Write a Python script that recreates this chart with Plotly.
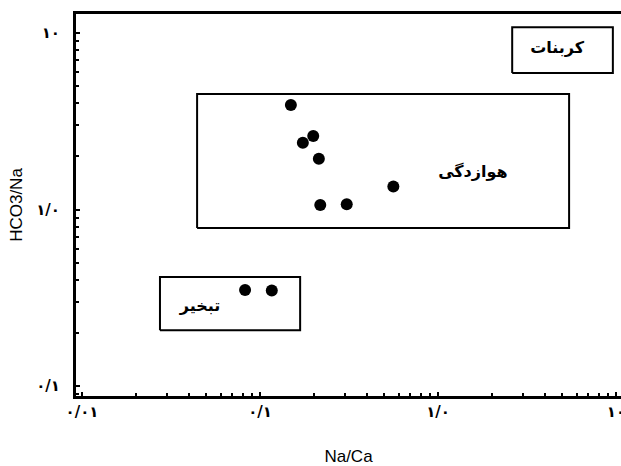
import plotly.graph_objects as go

# Sample points (Na/Ca, HCO3/Na)
na_ca = [0.149, 0.199, 0.174, 0.214, 0.561, 0.218, 0.307, 0.0824, 0.1164]
hco3_na = [3.91, 2.61, 2.39, 1.94, 1.35, 1.06, 1.07, 0.35, 0.347]

# Region boxes: name, x0, x1, y0, y1, label x, label y
box_names = ["کربنات", "هوازدگی", "تبخیر"]
box_x0 = [2.61, 0.0443, 0.0274]
box_x1 = [9.6, 5.45, 0.168]
box_y0 = [5.93, 0.785, 0.207]
box_y1 = [10.8, 4.51, 0.415]
label_x = [4.67, 1.57, 0.046]
label_y = [8.11, 1.61, 0.28]

x_tickvals = [0.01, 0.1, 1, 10]
x_ticktext = ["۰/۰۱", "۰/۱", "۱/۰", "۱۰"]
y_tickvals = [0.1, 1, 10]
y_ticktext = ["۰/۱", "۱/۰", "۱۰"]

fig = go.Figure()

for i in range(len(box_names)):
    fig.add_trace(go.Scatter(
        x=[box_x0[i], box_x1[i], box_x1[i], box_x0[i], box_x0[i]],
        y=[box_y0[i], box_y0[i], box_y1[i], box_y1[i], box_y0[i]],
        mode="lines", line=dict(color="black", width=2),
        hoverinfo="skip", showlegend=False))

fig.add_trace(go.Scatter(
    x=label_x, y=label_y, mode="text", text=[f"<b>{t}</b>" for t in box_names],
    textfont=dict(family="DejaVu Sans", size=16, color="black"),
    showlegend=False))

fig.add_trace(go.Scatter(
    x=na_ca, y=hco3_na, mode="markers",
    marker=dict(color="black", size=12), showlegend=False))

fig.update_layout(
    width=621, height=466,
    margin=dict(l=76, r=0, t=14, b=70),
    plot_bgcolor="white", paper_bgcolor="white",
    font=dict(family="Liberation Sans", color="black"),
)
fig.update_xaxes(
    type="log", range=[-2.034, 1.028], automargin=False,
    tickvals=x_tickvals, ticktext=[f"<b>{t}</b>" for t in x_ticktext],
    tickfont=dict(family="DejaVu Sans", size=15, color="black"),
    ticklabeloverflow="allow",
    showline=True, linecolor="black", linewidth=3, mirror=True,
    showgrid=False, zeroline=False,
    ticks="inside", ticklen=4, tickwidth=2, tickcolor="black",
    minor=dict(ticks="inside", ticklen=3, tickwidth=2, tickcolor="black", dtick="D1", showgrid=False),
    title=dict(text="Na/Ca", font=dict(family="Liberation Sans", size=17), standoff=32),
)
fig.update_yaxes(
    type="log", range=[-1.057, 1.108], automargin=False,
    tickvals=y_tickvals, ticktext=[f"<b>{t}</b>" for t in y_ticktext],
    tickfont=dict(family="DejaVu Sans", size=15, color="black"),
    showline=True, linecolor="black", linewidth=3, mirror=False,
    showgrid=False, zeroline=False,
    ticks="inside", ticklen=4, tickwidth=2, tickcolor="black",
    minor=dict(ticks="inside", ticklen=3, tickwidth=2, tickcolor="black", dtick="D1", showgrid=False),
    ticklabelstandoff=10,
    title=dict(text="HCO3/Na", font=dict(family="Liberation Sans", size=17), standoff=10),
)

fig.write_html("out.html")
